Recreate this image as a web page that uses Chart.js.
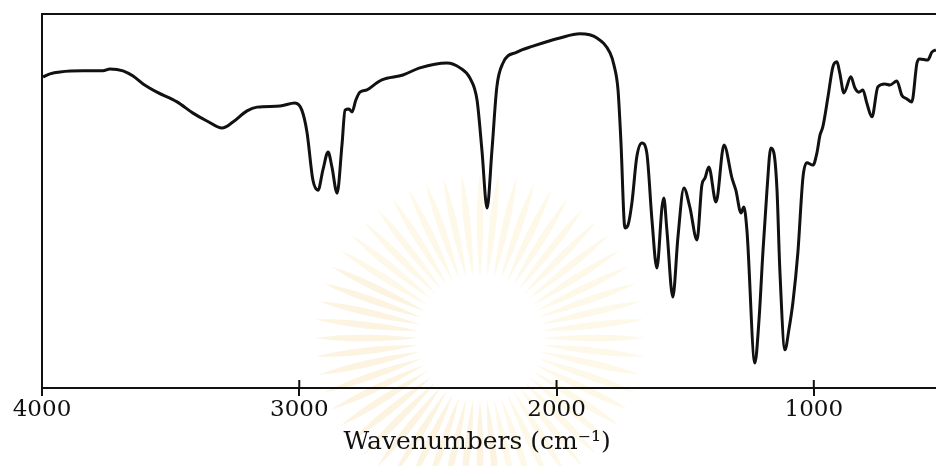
<!DOCTYPE html>
<html>
<head>
<meta charset="utf-8">
<script src="https://cdn.jsdelivr.net/npm/chart.js@4.4.1/dist/chart.umd.min.js"></script>
<style>
    html, body { margin: 0; padding: 0; background: #ffffff; }
    #wrap { width: 936px; height: 466px; position: relative; }
</style>
</head>
<body>
<div id="wrap"><canvas id="irChart"></canvas></div>
<script>
    // wavenumber (cm-1) doc tu hinh
    var wavenumbers = [
        3996, 3969, 3930, 3841, 3763, 3736, 3685, 3646, 3607, 3553, 3475, 3413, 3359, 3300, 3258, 3203, 3164, 3075, 3017,
        2990, 2970, 2947, 2927, 2908, 2888, 2873, 2853, 2834, 2822, 2807, 2795, 2780, 2764, 2737, 2698, 2679, 2597, 2531,
        2426, 2375, 2337, 2309, 2290, 2270, 2251, 2232, 2208, 2154, 2092, 1987, 1909, 1843, 1792, 1777, 1761, 1750,
        1734, 1722, 1707, 1688, 1668, 1649, 1629, 1610, 1590, 1583, 1571, 1548, 1528, 1505, 1482, 1454, 1435, 1423,
        1408, 1380, 1349, 1318, 1303, 1283, 1272, 1260, 1229, 1213, 1198, 1182, 1167, 1155, 1143, 1132, 1112, 1097,
        1081, 1062, 1042, 1027, 1003, 988, 976, 965, 945, 926, 910, 899, 883, 856, 840, 825, 809, 794, 774, 751, 724,
        704, 677, 658, 638, 619, 599, 588, 557, 541, 525
    ];
    // do truyen qua (%), 0 = day khung, 100 = dinh khung
    var transmittance = [
        83.2, 84.0, 84.5, 84.8, 84.8, 85.3, 84.8, 83.4, 81.3, 79.1, 76.5, 73.5, 71.4, 69.5, 71.1, 74.1, 75.1, 75.4, 76.2,
        74.3, 68.4, 55.6, 52.9, 58.3, 63.1, 59.1, 52.1, 65.0, 74.3, 74.6, 73.8, 77.0, 79.1, 79.7, 81.6, 82.4, 83.7, 85.6,
        86.9, 85.6, 82.9, 77.0, 63.6, 48.1, 63.6, 80.5, 86.9, 89.8, 91.4, 93.6, 94.7, 93.6, 89.6, 86.4, 79.7, 66.3,
        42.8, 43.6, 49.5, 61.8, 65.5, 62.8, 44.9, 32.1, 48.4, 50.8, 42.2, 24.3, 40.4, 53.5, 48.4, 39.6, 54.3, 56.1,
        59.1, 49.7, 65.0, 56.1, 52.9, 46.8, 48.4, 42.2, 6.7, 18.2, 36.1, 52.9, 64.2, 62.8, 52.9, 31.6, 10.2, 15.5,
        23.0, 36.1, 56.4, 60.2, 59.6, 62.8, 67.6, 69.8, 77.8, 85.8, 87.2, 84.2, 78.9, 83.2, 80.2, 79.1, 79.7, 76.2, 72.5, 80.5, 81.3,
        81.0, 82.1, 78.3, 77.3, 76.5, 86.9, 88.0, 87.7, 89.8, 90.4
    ];
    var tickValues = [4000, 3000, 2000, 1000];
    // them khoang trang cuoi de chu lech trai giong hinh goc
    var xTitle = 'Wavenumbers (cm\u207B\u00B9)\u00A0\u00A0\u00A0';

    var points = wavenumbers.map(function (w, i) {
        return { x: w, y: transmittance[i] };
    });

    var serif = "'DejaVu Serif', 'Liberation Serif', serif";

    // vach chia nho ve phia trong khung (chart.js chi ve ra ngoai)
    var innerTicks = {
        id: 'innerTicks',
        afterDraw: function (chart) {
            var ctx = chart.ctx;
            var sx = chart.scales.x;
            var bottom = chart.chartArea.bottom;
            ctx.save();
            ctx.strokeStyle = '#111';
            ctx.lineWidth = 2;
            tickValues.forEach(function (v) {
                var px = sx.getPixelForValue(v);
                ctx.beginPath();
                ctx.moveTo(px, bottom - 8);
                ctx.lineTo(px, bottom);
                ctx.stroke();
            });
            ctx.restore();
        }
    };

    // hinh mo (watermark) phia sau
    var watermark = {
        id: 'watermark',
        beforeDraw: function (chart) {
            var ctx = chart.ctx;
            var cx = 480, cy = 338;
            var n = 56;
            ctx.save();
            for (var i = 0; i < n; i++) {
                var a = i / n * Math.PI * 2;
                var r1 = 62, r2 = 165, rm = 120;
                var da = 0.028;
                ctx.beginPath();
                ctx.moveTo(cx + Math.cos(a) * r1, cy + Math.sin(a) * r1);
                ctx.quadraticCurveTo(cx + Math.cos(a - da * 2) * rm, cy + Math.sin(a - da * 2) * rm,
                    cx + Math.cos(a) * r2, cy + Math.sin(a) * r2);
                ctx.quadraticCurveTo(cx + Math.cos(a + da * 2) * rm, cy + Math.sin(a + da * 2) * rm,
                    cx + Math.cos(a) * r1, cy + Math.sin(a) * r1);
                ctx.closePath();
                ctx.fillStyle = (a > Math.PI * 0.45 && a < Math.PI * 1.15) ? 'rgba(240, 195, 100, 0.2)' : 'rgba(245, 218, 125, 0.18)';
                ctx.fill();
            }
            ctx.restore();
        }
    };

    var ctx = document.getElementById('irChart').getContext('2d');
    var irChart = new Chart(ctx, {
        type: 'line',
        data: {
            datasets: [{
                data: points,
                borderColor: '#111111',
                borderWidth: 3,
                pointRadius: 0,
                fill: false,
                cubicInterpolationMode: 'monotone'
            }]
        },
        options: {
            responsive: true,
            maintainAspectRatio: false,
            animation: false,
            layout: { padding: { left: 42, right: 0, top: 14, bottom: 8 } },
            plugins: {
                legend: { display: false },
                tooltip: { enabled: false }
            },
            scales: {
                x: {
                    type: 'linear',
                    position: 'bottom',
                    min: 525,
                    max: 4000,
                    reverse: true,
                    afterBuildTicks: function (scale) {
                        scale.ticks = tickValues.map(function (v) { return { value: v }; });
                    },
                    afterFit: function (scale) {
                        scale.height = 70;
                    },
                    ticks: {
                        color: '#111',
                        padding: 0,
                        maxRotation: 0,
                        autoSkip: false,
                        font: { family: serif, size: 23 },
                        callback: function (v) { return String(v); }
                    },
                    grid: {
                        display: true,
                        drawOnChartArea: false,
                        drawTicks: true,
                        tickLength: 8,
                        color: '#111',
                        lineWidth: 2
                    },
                    border: { display: true, color: '#111', width: 2 },
                    title: {
                        display: true,
                        text: xTitle,
                        color: '#111',
                        font: { family: serif, size: 25 },
                        padding: { top: 0, bottom: 1 }
                    }
                },
                xTop: {
                    type: 'linear',
                    position: 'top',
                    min: 525,
                    max: 4000,
                    reverse: true,
                    ticks: { display: false },
                    grid: { display: false, drawTicks: false },
                    border: { display: true, color: '#111', width: 2 }
                },
                y: {
                    type: 'linear',
                    min: 0,
                    max: 100,
                    ticks: { display: false },
                    grid: { display: false, drawTicks: false },
                    border: { display: true, color: '#111', width: 2 }
                }
            }
        },
        plugins: [watermark, innerTicks]
    });
</script>
</body>
</html>
